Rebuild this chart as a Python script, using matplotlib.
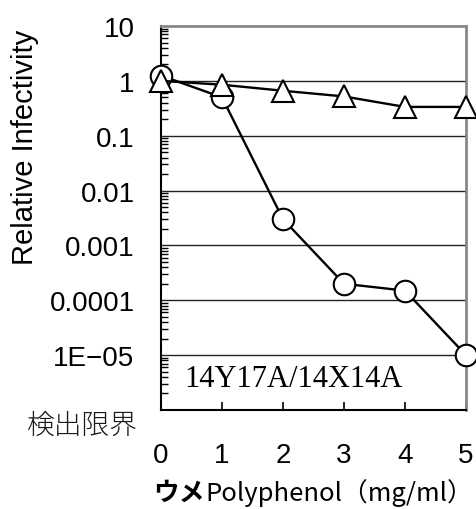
import numpy as np
import matplotlib
matplotlib.use("Agg")
import matplotlib.pyplot as plt
from matplotlib.ticker import LogLocator, NullFormatter, FixedFormatter, FixedLocator

plt.rcParams['font.family'] = ['Liberation Sans', 'Noto Sans CJK JP', 'DejaVu Sans']

# concentration of ume polyphenol (mg/ml)
conc = [0, 1, 2, 3, 4, 5]
# relative infectivity, two series
infect_circle = [1.25, 0.5, 0.003, 0.0002, 0.00015, 0.00001]
infect_triangle = [1.0, 0.85, 0.66, 0.52, 0.335, 0.335]

ytick_vals = [1e1, 1e0, 1e-1, 1e-2, 1e-3, 1e-4, 1e-5]
ytick_text = ["10", "1", "0.1", "0.01", "0.001", "0.0001", "1E\u221205"]

fig = plt.figure(figsize=(4.77, 5.10), dpi=100)
ax = fig.add_axes([161 / 477, 1 - 411 / 510, (466 - 161) / 477, (411 - 27) / 510])

ax.set_yscale("log")
ax.set_ylim(1e-6, 10)
ax.set_xlim(0, 5)

# decade gridlines
for v in ytick_vals[1:]:
    ax.axhline(v, color="#222222", lw=1.0, zorder=1)

ax.plot(conc, infect_circle, "-o", color="black", lw=1.7, ms=15.5,
        mfc="white", mec="black", mew=1.5, clip_on=False, zorder=3)
ax.plot(conc, infect_triangle, "-^", color="black", lw=1.7, ms=16.5,
        mfc="white", mec="black", mew=1.5, clip_on=False, zorder=4)

ax.yaxis.set_major_locator(FixedLocator(ytick_vals))
ax.yaxis.set_major_formatter(FixedFormatter(ytick_text))
ax.yaxis.set_minor_locator(LogLocator(base=10, subs=np.arange(2, 10), numticks=20))
ax.yaxis.set_minor_formatter(NullFormatter())
ax.tick_params(axis="y", which="major", direction="in", length=0, pad=19, labelsize=20)
ax.tick_params(axis="y", which="minor", direction="in", length=5, width=1)

ax.set_xticks(conc)
ax.tick_params(axis="x", direction="in", length=6, width=1.2, pad=23, labelsize=20)

for side in ["left", "bottom"]:
    ax.spines[side].set_color("black")
    ax.spines[side].set_linewidth(1.5)
for side in ["top", "right"]:
    ax.spines[side].set_color("#888888")
    ax.spines[side].set_linewidth(2)

fig.text(25 / 477, 1 - 147 / 510, "Relative Infectivity", fontsize=21,
         rotation=90, ha="center", va="center")

# x axis title: bold katakana prefix followed by the regular part
xl_y = 1 - 493 / 510
fig.text(205 / 477, xl_y, "ウメ", fontsize=18.5, fontweight="bold",
         family=["Noto Sans CJK JP", "DejaVu Sans"], ha="right", va="center")
fig.text(205 / 477, xl_y, "Polyphenol（mg/ml）", fontsize=18.5,
         family=["Noto Sans CJK JP", "DejaVu Sans"], ha="left", va="center")

ax.text(0.39, 3.7e-6, "14Y17A/14X14A", fontsize=22,
        family="Liberation Serif", va="center", ha="left")

fig.text(82 / 477, 1 - 426 / 510, "検出限界", fontsize=20,
         family="Noto Sans CJK JP", fontweight="light", color="#1a1a1a",
         ha="center", va="center")

fig.savefig("out.png", dpi=100)
